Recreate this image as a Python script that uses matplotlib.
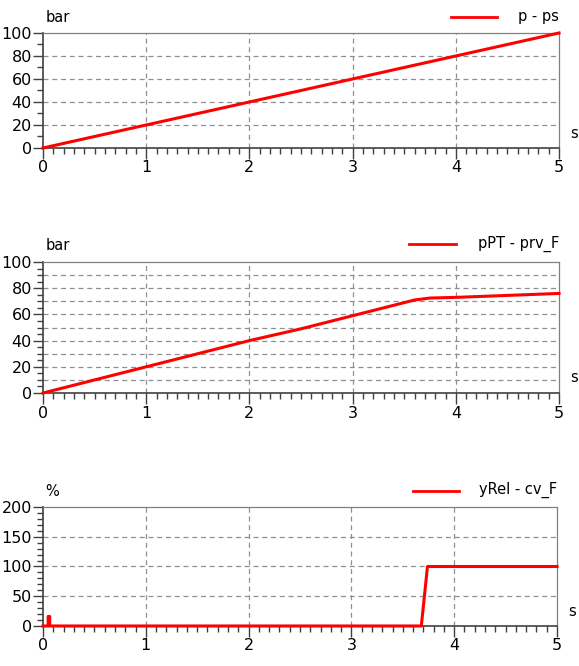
import matplotlib.pyplot as plt
from matplotlib.ticker import MultipleLocator

# p - ps
t1 = [0, 0.25, 0.5, 1.0, 1.5, 2.0, 2.5, 3.0, 3.5, 4.0, 4.5, 5.0]
p1 = [0, 5, 10, 20, 30, 40, 50, 60, 70, 80, 90, 100]

# pPT - prv_F
t2 = [0, 0.5, 1.0, 1.5, 2.0, 2.5, 3.0, 3.25, 3.5, 3.6, 3.75, 4.0, 4.5, 5.0]
p2 = [0, 10, 20, 30, 40, 49, 59, 64, 69, 71, 72.5, 73, 74.5, 76]

# yRel - cv_F
t3 = [0, 0.05, 0.05, 0.065, 0.065, 3.68, 3.74, 5.0]
y3 = [0, 0, 16, 16, 0, 0, 100, 100]

fig = plt.figure(figsize=(5.79, 6.66), dpi=100)
plt.rcParams['font.family'] = ['DejaVu Sans']

panels = [
    # rect, t, y, ymax, ymajor, ygrid, yminor, unit, label, legend line x
    ([0.0743, 0.7778, 0.8912, 0.1727], t1, p1, 100, 20, 20, 10, "bar", "p - ps", [0.79, 0.88]),
    ([0.0743, 0.4099, 0.8912, 0.1967], t2, p2, 100, 20, 10, 5, "bar", "pPT - prv_F", [0.71, 0.8]),
    ([0.0743, 0.0601, 0.8877, 0.1786], t3, y3, 200, 50, 50, 10, "%", "yRel - cv_F", [0.72, 0.81]),
]

for rect, t, y, ymax, ymaj, ygrid, ymin, unit, label, lx in panels:
    ax = fig.add_axes(rect)
    ax.plot(t, y, color="#ff0000", lw=2.2, clip_on=False, zorder=3)
    ax.set_xlim(0, 5)
    ax.set_ylim(0, ymax)
    ax.xaxis.set_major_locator(MultipleLocator(1))
    ax.xaxis.set_minor_locator(MultipleLocator(0.1))
    ax.yaxis.set_major_locator(MultipleLocator(ymaj))
    ax.yaxis.set_minor_locator(MultipleLocator(ymin))
    # dashed grid
    for gx in range(1, 5):
        ax.axvline(gx, color="#909090", ls=(0, (4, 3)), lw=0.9, zorder=1)
    gy = ygrid
    while gy < ymax:
        ax.axhline(gy, color="#909090", ls=(0, (4, 3)), lw=0.9, zorder=1)
        gy += ygrid
    for s in ["top", "right"]:
        ax.spines[s].set_color("#808080")
        ax.spines[s].set_linewidth(0.9)
    for s in ["left", "bottom"]:
        ax.spines[s].set_color("#404040")
        ax.spines[s].set_linewidth(1.2)
    ax.tick_params(axis="both", which="major", direction="out", length=7, width=1.0,
                   color="#404040", labelsize=11.5, pad=1)
    ax.tick_params(axis="both", which="minor", direction="out", length=4, width=1.0,
                   color="#404040")
    ax.tick_params(axis="x", which="major", length=8, pad=1)
    ax.text(0.005, 1.07, unit, transform=ax.transAxes, fontsize=10.5, ha="left", va="bottom")
    ax.text(1.022, 0.06, "s", transform=ax.transAxes, fontsize=10.5, ha="left", va="bottom")
    ax.text(1.0, 1.08, label, transform=ax.transAxes, fontsize=10.5, ha="right", va="bottom")
    ax.plot(lx, [1.135, 1.135], transform=ax.transAxes, color="#ff0000", lw=2, clip_on=False)

fig.savefig("out.png", dpi=100)
